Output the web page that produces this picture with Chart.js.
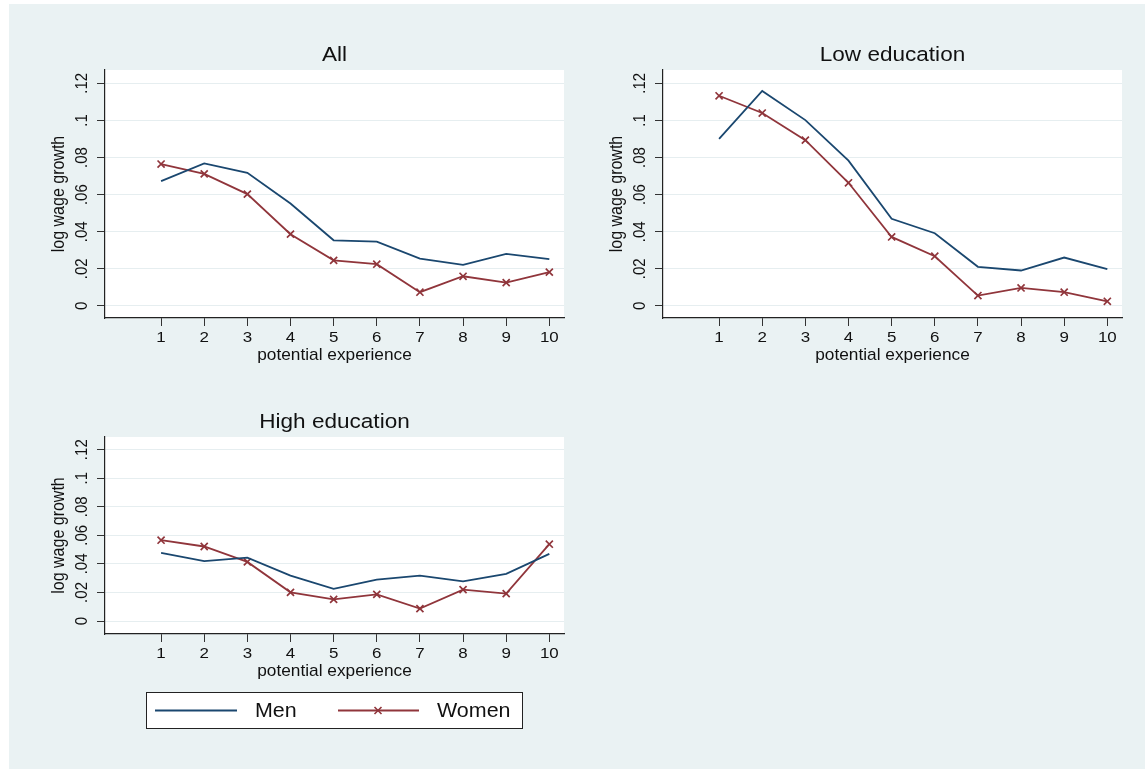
<!DOCTYPE html>
<html>
<head>
<meta charset="utf-8">
<script src="https://cdn.jsdelivr.net/npm/chart.js@4.4.1/dist/chart.umd.min.js"></script>
<style>
  body { margin: 0; background: #fff; }
  #page { position: relative; width: 1145px; height: 769px; overflow: hidden; background: #fff; }
  #bg { position: absolute; left: 9px; top: 4px; right: 0; bottom: 0; background: #eaf2f3; }
  canvas { position: absolute; }
</style>
</head>
<body>
<div id="page">
  <div id="bg"></div>
  <canvas id="c1" style="left:0;top:0" width="580" height="380"></canvas>
  <canvas id="c2" style="left:580px;top:0" width="565" height="380"></canvas>
  <canvas id="c3" style="left:0;top:380px" width="580" height="389"></canvas>
</div>
<script>
// データ
const experience = [1, 2, 3, 4, 5, 6, 7, 8, 9, 10];
const allMen     = [0.0673, 0.0768, 0.0718, 0.0552, 0.0354, 0.0347, 0.0255, 0.0221, 0.0281, 0.0252];
const allWomen   = [0.0765, 0.0712, 0.0603, 0.0387, 0.0246, 0.0225, 0.0074, 0.0160, 0.0126, 0.0182];
const lowMen     = [0.0901, 0.1159, 0.1002, 0.0783, 0.0470, 0.0392, 0.0211, 0.0191, 0.0261, 0.0198];
const lowWomen   = [0.1133, 0.1040, 0.0894, 0.0664, 0.0372, 0.0268, 0.0056, 0.0097, 0.0074, 0.0025];
const highMen    = [0.0477, 0.0419, 0.0444, 0.0318, 0.0225, 0.0290, 0.0318, 0.0278, 0.0330, 0.0470];
const highWomen  = [0.0566, 0.0522, 0.0414, 0.0201, 0.0152, 0.0187, 0.0087, 0.0220, 0.0192, 0.0538];

const yTicks = [0, 0.02, 0.04, 0.06, 0.08, 0.1, 0.12];
const yTickLabels = ['0', '.02', '.04', '.06', '.08', '.1', '.12'];
const xTickLabels = ['1', '2', '3', '4', '5', '6', '7', '8', '9', '10'];
const seriesNames = ['Men', 'Women'];

const MEN_COLOR = '#1a476f';
const WOMEN_COLOR = '#90353b';
const FONT = '"Liberation Sans", Arial, sans-serif';
const SX = 1.1; // 元画像は横に少し伸びている

function txt(ctx, s, x, y, size, align, rot) {
    ctx.save();
    ctx.translate(x, y);
    ctx.scale(SX, 1);
    if (rot) ctx.rotate(-Math.PI / 2);
    ctx.font = size + 'px ' + FONT;
    ctx.textAlign = align;
    ctx.textBaseline = 'alphabetic';
    ctx.fillStyle = '#111';
    ctx.fillText(s, 0, 0);
    ctx.restore();
}

// 白いプロット領域 + 文字
const stataPlugin = {
    id: 'stata',
    beforeDraw(chart) {
        const a = chart.chartArea, ctx = chart.ctx;
        ctx.save();
        ctx.fillStyle = '#fff';
        ctx.fillRect(a.left, a.top, a.right - a.left, a.bottom - a.top);
        ctx.restore();
    },
    afterDraw(chart, args, o) {
        const a = chart.chartArea, ctx = chart.ctx;
        const xs = chart.scales.x, ys = chart.scales.y;
        const cx = (a.left + a.right) / 2;
        txt(ctx, o.title, cx, a.top - 9.5, 20.5, 'center');
        yTicks.forEach((v, i) => {
            txt(ctx, yTickLabels[i], a.left - 18.5, ys.getPixelForValue(v), 15, 'center', true);
        });
        txt(ctx, 'log wage growth', a.left - 41.5, (a.top + a.bottom) / 2, 16, 'center', true);
        experience.forEach((v, i) => {
            txt(ctx, xTickLabels[i], xs.getPixelForValue(v), a.bottom + 24, 15.4, 'center');
        });
        txt(ctx, 'potential experience', cx, a.bottom + 41.5, 15.7, 'center');

        if (o.legend) {
            const L = o.legend;
            ctx.save();
            ctx.fillStyle = '#fff';
            ctx.strokeStyle = '#222';
            ctx.lineWidth = 1;
            ctx.fillRect(L.x, L.y, L.w, L.h);
            ctx.strokeRect(L.x + 0.5, L.y + 0.5, L.w - 1, L.h - 1);
            const my = L.y + 18.5;
            ctx.lineWidth = 1.8;
            ctx.strokeStyle = MEN_COLOR;
            ctx.beginPath(); ctx.moveTo(L.x + 9, my); ctx.lineTo(L.x + 91, my); ctx.stroke();
            ctx.strokeStyle = WOMEN_COLOR;
            ctx.beginPath(); ctx.moveTo(L.x + 192, my); ctx.lineTo(L.x + 273, my); ctx.stroke();
            const mx = L.x + 232, r = 3.5;
            ctx.lineWidth = 1.6;
            ctx.beginPath();
            ctx.moveTo(mx - r, my - r); ctx.lineTo(mx + r, my + r);
            ctx.moveTo(mx - r, my + r); ctx.lineTo(mx + r, my - r);
            ctx.stroke();
            ctx.restore();
            txt(ctx, seriesNames[0], L.x + 109, L.y + 25, 19.5, 'left');
            txt(ctx, seriesNames[1], L.x + 291, L.y + 25, 19.5, 'left');
        }
    }
};

function makePanel(id, title, men, women, box, yMin, yMax, legend) {
    const toXY = arr => arr.map((v, i) => ({ x: experience[i], y: v }));
    return new Chart(document.getElementById(id), {
        type: 'line',
        data: {
            datasets: [
                {
                    label: seriesNames[0],
                    data: toXY(men),
                    borderColor: MEN_COLOR,
                    borderWidth: 1.8,
                    pointRadius: 0,
                    tension: 0
                },
                {
                    label: seriesNames[1],
                    data: toXY(women),
                    borderColor: WOMEN_COLOR,
                    borderWidth: 1.8,
                    pointStyle: 'crossRot',
                    pointRadius: 5,
                    pointBorderWidth: 1.7,
                    pointBorderColor: WOMEN_COLOR,
                    tension: 0
                }
            ]
        },
        options: {
            responsive: false,
            animation: false,
            events: [],
            layout: { padding: { left: 0, bottom: 0, top: box.top, right: box.right } },
            plugins: {
                legend: { display: false },
                tooltip: { enabled: false },
                stata: { title: title, legend: legend }
            },
            scales: {
                x: {
                    type: 'linear',
                    min: -0.30,
                    max: 10.34,
                    afterBuildTicks: s => { s.ticks = experience.map(v => ({ value: v })); },
                    afterFit: s => { s.height = box.xh; },
                    ticks: { display: false },
                    grid: { drawOnChartArea: false, drawTicks: true, tickLength: 8, tickColor: '#333', tickWidth: 1 },
                    border: { display: true, color: '#222', width: 1.2 }
                },
                y: {
                    type: 'linear',
                    min: yMin,
                    max: yMax,
                    afterBuildTicks: s => { s.ticks = yTicks.map(v => ({ value: v })); },
                    afterFit: s => { s.width = box.yw; },
                    ticks: { display: false },
                    grid: { color: '#e6eef0', lineWidth: 1, drawTicks: true, tickLength: 8, tickColor: '#333', tickWidth: 1 },
                    border: { display: true, color: '#222', width: 1.2 }
                }
            }
        },
        plugins: [stataPlugin]
    });
}

makePanel('c1', 'All', allMen, allWomen, { top: 70, right: 16, yw: 105, xh: 62 }, -0.0065, 0.1272, null);
makePanel('c2', 'Low education', lowMen, lowWomen, { top: 70, right: 23, yw: 83, xh: 62 }, -0.0065, 0.1272, null);
makePanel('c3', 'High education', highMen, highWomen, { top: 57, right: 16, yw: 105, xh: 135 }, -0.0091, 0.1289,
    { x: 146, y: 312, w: 377, h: 37 });
</script>
</body>
</html>
